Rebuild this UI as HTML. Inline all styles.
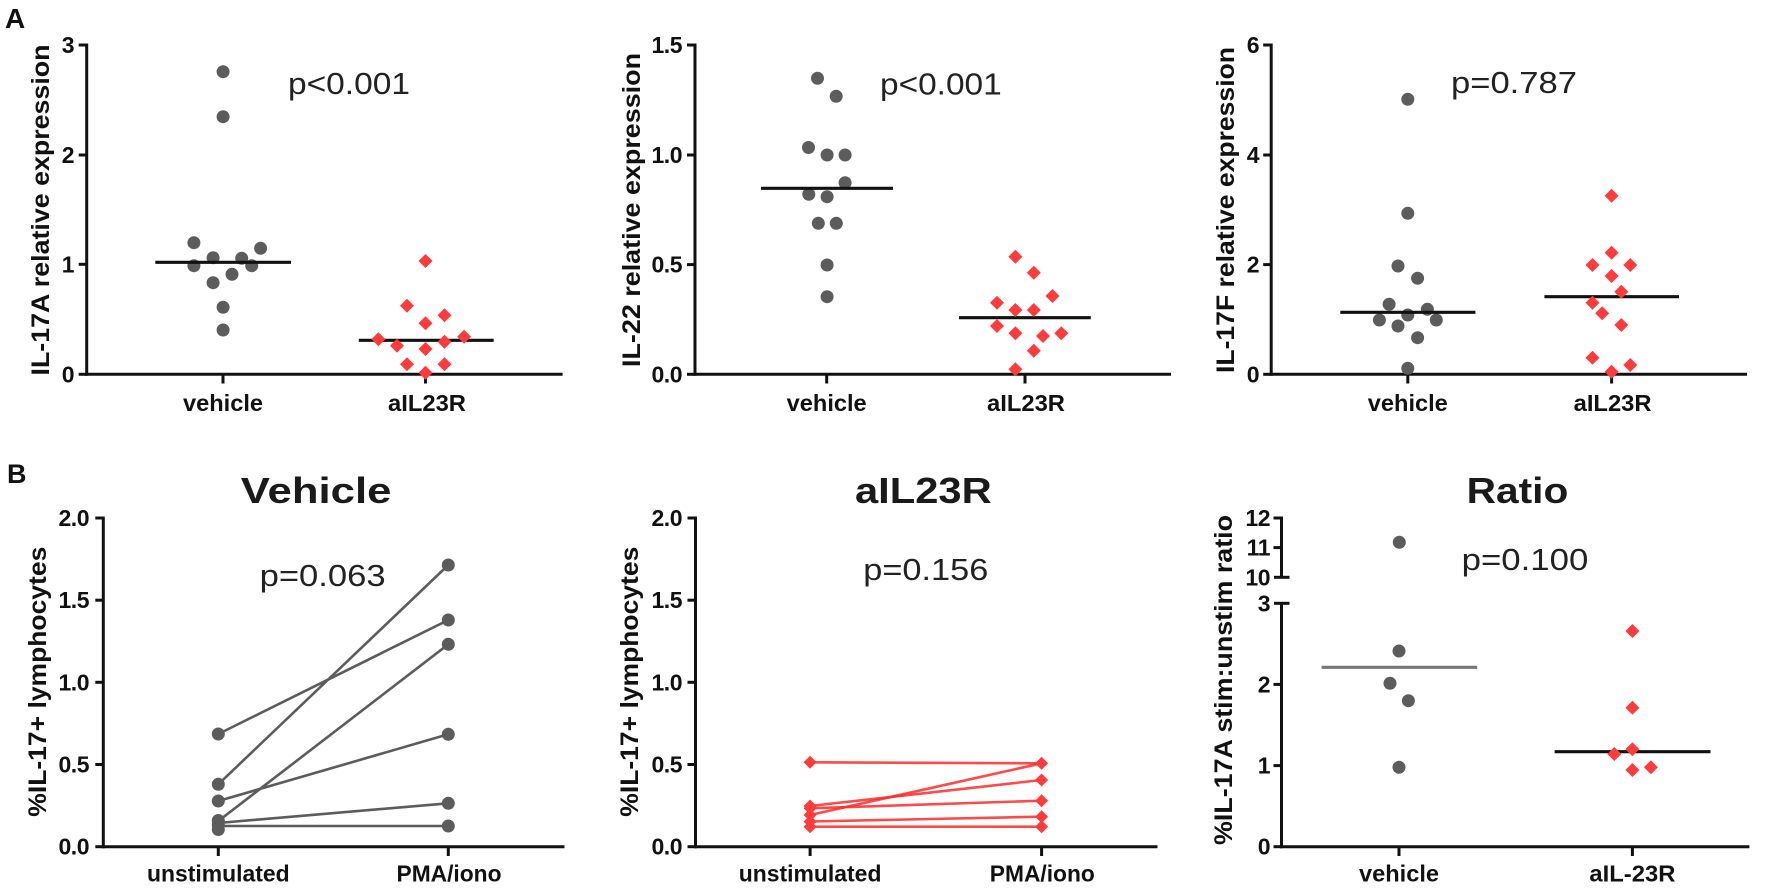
<!DOCTYPE html>
<html>
<head>
<meta charset="utf-8">
<style>
  html, body { margin:0; padding:0; background:#fff; }
  svg { display:block; }
  text { font-family: "Liberation Sans", Arial, sans-serif; fill:#111; }
  .tk { font-size:23px; font-weight:bold; text-anchor:end; letter-spacing:-0.5px; }
  .xl { font-size:23.5px; font-weight:bold; text-anchor:middle; }
  .yl { font-size:25px; font-weight:bold; text-anchor:middle; }
  .pv { font-size:31px; fill:#222; }
  .ti { font-size:36px; font-weight:bold; fill:#1a1a1a; }
  .pl { font-size:27px; font-weight:bold; }
  .ax { stroke:#111; stroke-width:3; fill:none; }
  .md { stroke:#111; stroke-width:3.2; }
  .gc { fill:#5c5c5c; }
  .rd { fill:#ff3b3b; }
  .gl { stroke:#5c5c5c; stroke-width:2.6; fill:none; }
  .rl { stroke:#ff2a2a; stroke-width:2.6; fill:none; stroke-opacity:0.85; }
</style>
</head>
<body>
<svg width="1772" height="893" viewBox="0 0 1772 893" xmlns="http://www.w3.org/2000/svg">
<defs>
  <path id="dm" d="M0,-7 L7,0 L0,7 L-7,0Z"/>
  <path id="ds" d="M0,-6.5 L6.5,0 L0,6.5 L-6.5,0Z"/>
</defs>

<text class="pl" x="5" y="28" style="font-size:28px">A</text>
<text class="pl" x="7" y="483">B</text>

<!-- ================= A1 ================= -->
<g>
  <line class="ax" x1="86.7" y1="43.5" x2="86.7" y2="375.8"/>
  <line class="ax" x1="85.2" y1="374.3" x2="562.6" y2="374.3"/>
  <line class="ax" x1="78.7" y1="45" x2="86.7" y2="45"/>
  <line class="ax" x1="78.7" y1="155" x2="86.7" y2="155"/>
  <line class="ax" x1="78.7" y1="264.3" x2="86.7" y2="264.3"/>
  <line class="ax" x1="78.7" y1="374.3" x2="86.7" y2="374.3"/>
  <text class="tk" x="74" y="53">3</text>
  <text class="tk" x="74" y="163">2</text>
  <text class="tk" x="74" y="272.3">1</text>
  <text class="tk" x="74" y="382.3">0</text>
  <line class="ax" x1="223" y1="374.3" x2="223" y2="383.5"/>
  <line class="ax" x1="425.5" y1="374.3" x2="425.5" y2="383.5"/>
  <text class="xl" x="223" y="411" textLength="80" lengthAdjust="spacingAndGlyphs">vehicle</text>
  <text class="xl" x="427" y="411" textLength="78" lengthAdjust="spacingAndGlyphs">aIL23R</text>
  <text class="yl" transform="translate(49,210) rotate(-90)" textLength="331" lengthAdjust="spacingAndGlyphs">IL-17A relative expression</text>
  <text class="pv" x="288" y="94" textLength="122" lengthAdjust="spacingAndGlyphs">p&lt;0.001</text>
  <circle class="gc" cx="223.1" cy="71.7" r="6.5"/>
  <circle class="gc" cx="223.1" cy="116.7" r="6.5"/>
  <circle class="gc" cx="193.9" cy="242.7" r="6.5"/>
  <circle class="gc" cx="260.6" cy="248.3" r="6.5"/>
  <circle class="gc" cx="213.1" cy="257.7" r="6.5"/>
  <circle class="gc" cx="241.7" cy="258.3" r="6.5"/>
  <circle class="gc" cx="193.9" cy="265.7" r="6.5"/>
  <circle class="gc" cx="251.7" cy="265.7" r="6.5"/>
  <circle class="gc" cx="232" cy="274.3" r="6.5"/>
  <circle class="gc" cx="213.1" cy="282.7" r="6.5"/>
  <circle class="gc" cx="223.1" cy="307.3" r="6.5"/>
  <circle class="gc" cx="223.1" cy="330" r="6.5"/>
  <line class="md" x1="155.3" y1="262.3" x2="291" y2="262.3"/>
  <line class="md" x1="358.8" y1="340.3" x2="493.7" y2="340.3"/>
  <use href="#dm" class="rd" x="425.5" y="261"/>
  <use href="#dm" class="rd" x="407" y="305.7"/>
  <use href="#dm" class="rd" x="444.5" y="315.3"/>
  <use href="#dm" class="rd" x="425.5" y="323.3"/>
  <use href="#dm" class="rd" x="378.4" y="339.3"/>
  <use href="#dm" class="rd" x="464.1" y="336.7"/>
  <use href="#dm" class="rd" x="444.5" y="341.7"/>
  <use href="#dm" class="rd" x="397" y="345.7"/>
  <use href="#dm" class="rd" x="425.5" y="349"/>
  <use href="#dm" class="rd" x="407" y="364.3"/>
  <use href="#dm" class="rd" x="444.5" y="364.3"/>
  <use href="#dm" class="rd" x="425.5" y="372.7"/>
</g>

<!-- ================= A2 ================= -->
<g>
  <line class="ax" x1="695" y1="43.5" x2="695" y2="375.8"/>
  <line class="ax" x1="693.5" y1="374.3" x2="1171" y2="374.3"/>
  <line class="ax" x1="687" y1="45" x2="695" y2="45"/>
  <line class="ax" x1="687" y1="155" x2="695" y2="155"/>
  <line class="ax" x1="687" y1="264.6" x2="695" y2="264.6"/>
  <line class="ax" x1="687" y1="374.3" x2="695" y2="374.3"/>
  <text class="tk" x="682" y="53">1.5</text>
  <text class="tk" x="682" y="163">1.0</text>
  <text class="tk" x="682" y="272.6">0.5</text>
  <text class="tk" x="682" y="382.3">0.0</text>
  <line class="ax" x1="826.7" y1="374.3" x2="826.7" y2="383.5"/>
  <line class="ax" x1="1025" y1="374.3" x2="1025" y2="383.5"/>
  <text class="xl" x="826.7" y="411" textLength="80" lengthAdjust="spacingAndGlyphs">vehicle</text>
  <text class="xl" x="1026" y="411" textLength="78" lengthAdjust="spacingAndGlyphs">aIL23R</text>
  <text class="yl" transform="translate(640,210) rotate(-90)" textLength="314" lengthAdjust="spacingAndGlyphs">IL-22 relative expression</text>
  <text class="pv" x="880" y="94.3" textLength="121.7" lengthAdjust="spacingAndGlyphs">p&lt;0.001</text>
  <circle class="gc" cx="817.5" cy="78.3" r="6.5"/>
  <circle class="gc" cx="836.2" cy="96.3" r="6.5"/>
  <circle class="gc" cx="808.5" cy="147.5" r="6.5"/>
  <circle class="gc" cx="827.1" cy="155" r="6.5"/>
  <circle class="gc" cx="845.1" cy="155" r="6.5"/>
  <circle class="gc" cx="845.1" cy="182.7" r="6.5"/>
  <circle class="gc" cx="808.8" cy="194.3" r="6.5"/>
  <circle class="gc" cx="827.1" cy="196.7" r="6.5"/>
  <circle class="gc" cx="818.3" cy="223.3" r="6.5"/>
  <circle class="gc" cx="836.3" cy="223.3" r="6.5"/>
  <circle class="gc" cx="827.1" cy="265" r="6.5"/>
  <circle class="gc" cx="827.1" cy="296.7" r="6.5"/>
  <line class="md" x1="761" y1="188.3" x2="893" y2="188.3"/>
  <line class="md" x1="959" y1="317.7" x2="1090.8" y2="317.7"/>
  <use href="#dm" class="rd" x="1015.4" y="256.7"/>
  <use href="#dm" class="rd" x="1033.8" y="272.7"/>
  <use href="#dm" class="rd" x="997" y="302.7"/>
  <use href="#dm" class="rd" x="1052.5" y="296"/>
  <use href="#dm" class="rd" x="1015.4" y="310"/>
  <use href="#dm" class="rd" x="1033.8" y="310"/>
  <use href="#dm" class="rd" x="997" y="326"/>
  <use href="#dm" class="rd" x="1015.4" y="333.3"/>
  <use href="#dm" class="rd" x="1043" y="336"/>
  <use href="#dm" class="rd" x="1061.3" y="333.3"/>
  <use href="#dm" class="rd" x="1033.8" y="350.7"/>
  <use href="#dm" class="rd" x="1015.4" y="369.3"/>
</g>

<!-- ================= A3 ================= -->
<g>
  <line class="ax" x1="1271.2" y1="43.5" x2="1271.2" y2="375.8"/>
  <line class="ax" x1="1269.7" y1="374.3" x2="1747" y2="374.3"/>
  <line class="ax" x1="1263.2" y1="45" x2="1271.2" y2="45"/>
  <line class="ax" x1="1263.2" y1="155" x2="1271.2" y2="155"/>
  <line class="ax" x1="1263.2" y1="264.6" x2="1271.2" y2="264.6"/>
  <line class="ax" x1="1263.2" y1="374.3" x2="1271.2" y2="374.3"/>
  <text class="tk" x="1259" y="53">6</text>
  <text class="tk" x="1259" y="163">4</text>
  <text class="tk" x="1259" y="272.6">2</text>
  <text class="tk" x="1259" y="382.3">0</text>
  <line class="ax" x1="1407.8" y1="374.3" x2="1407.8" y2="383.5"/>
  <line class="ax" x1="1611.6" y1="374.3" x2="1611.6" y2="383.5"/>
  <text class="xl" x="1407.8" y="411" textLength="80" lengthAdjust="spacingAndGlyphs">vehicle</text>
  <text class="xl" x="1612.6" y="411" textLength="78" lengthAdjust="spacingAndGlyphs">aIL23R</text>
  <text class="yl" transform="translate(1234,210) rotate(-90)" textLength="326" lengthAdjust="spacingAndGlyphs">IL-17F relative expression</text>
  <text class="pv" x="1451" y="93" textLength="126" lengthAdjust="spacingAndGlyphs">p=0.787</text>
  <circle class="gc" cx="1407.8" cy="99.3" r="6.5"/>
  <circle class="gc" cx="1407.8" cy="213.3" r="6.5"/>
  <circle class="gc" cx="1398" cy="266" r="6.5"/>
  <circle class="gc" cx="1417.6" cy="278.3" r="6.5"/>
  <circle class="gc" cx="1389.1" cy="304.3" r="6.5"/>
  <circle class="gc" cx="1427.4" cy="309.3" r="6.5"/>
  <circle class="gc" cx="1407.8" cy="315" r="6.5"/>
  <circle class="gc" cx="1379.4" cy="320" r="6.5"/>
  <circle class="gc" cx="1436.3" cy="320" r="6.5"/>
  <circle class="gc" cx="1398" cy="326" r="6.5"/>
  <circle class="gc" cx="1417.6" cy="337.7" r="6.5"/>
  <circle class="gc" cx="1407.8" cy="368.3" r="6.5"/>
  <line class="md" x1="1340.3" y1="312.3" x2="1475.4" y2="312.3"/>
  <line class="md" x1="1544.4" y1="296.7" x2="1679" y2="296.7"/>
  <use href="#dm" class="rd" x="1611.6" y="195.7"/>
  <use href="#dm" class="rd" x="1611.6" y="252.7"/>
  <use href="#dm" class="rd" x="1592.5" y="265"/>
  <use href="#dm" class="rd" x="1630.3" y="265"/>
  <use href="#dm" class="rd" x="1611.6" y="276"/>
  <use href="#dm" class="rd" x="1621.3" y="291.7"/>
  <use href="#dm" class="rd" x="1592.5" y="302.7"/>
  <use href="#dm" class="rd" x="1602.2" y="313.3"/>
  <use href="#dm" class="rd" x="1621.3" y="325"/>
  <use href="#dm" class="rd" x="1592.5" y="357.7"/>
  <use href="#dm" class="rd" x="1630.3" y="365"/>
  <use href="#dm" class="rd" x="1611.6" y="371.7"/>
</g>

<!-- ================= B1 ================= -->
<g>
  <text class="ti" x="240.8" y="503" textLength="150.6" lengthAdjust="spacingAndGlyphs">Vehicle</text>
  <line class="ax" x1="103.3" y1="516.5" x2="103.3" y2="848.2"/>
  <line class="ax" x1="101.8" y1="846.7" x2="564.5" y2="846.7"/>
  <line class="ax" x1="95.3" y1="518" x2="103.3" y2="518"/>
  <line class="ax" x1="95.3" y1="600.2" x2="103.3" y2="600.2"/>
  <line class="ax" x1="95.3" y1="682.3" x2="103.3" y2="682.3"/>
  <line class="ax" x1="95.3" y1="764.5" x2="103.3" y2="764.5"/>
  <line class="ax" x1="95.3" y1="846.7" x2="103.3" y2="846.7"/>
  <text class="tk" x="89" y="526">2.0</text>
  <text class="tk" x="89" y="608.2">1.5</text>
  <text class="tk" x="89" y="690.3">1.0</text>
  <text class="tk" x="89" y="772.5">0.5</text>
  <text class="tk" x="89" y="854.7">0.0</text>
  <line class="ax" x1="218.3" y1="846.7" x2="218.3" y2="856"/>
  <line class="ax" x1="448.3" y1="846.7" x2="448.3" y2="856"/>
  <text class="xl" x="218.3" y="881.7" textLength="142.7" lengthAdjust="spacingAndGlyphs">unstimulated</text>
  <text class="xl" x="449" y="881.7" textLength="105" lengthAdjust="spacingAndGlyphs">PMA/iono</text>
  <text class="yl" transform="translate(46,681.7) rotate(-90)" textLength="270" lengthAdjust="spacingAndGlyphs">%IL-17+ lymphocytes</text>
  <text class="pv" x="259.6" y="586" textLength="126" lengthAdjust="spacingAndGlyphs">p=0.063</text>
  <line class="gl" x1="218.3" y1="734" x2="448.3" y2="620"/>
  <line class="gl" x1="218.3" y1="784.3" x2="448.3" y2="565"/>
  <line class="gl" x1="218.3" y1="801" x2="448.3" y2="734.3"/>
  <line class="gl" x1="218.3" y1="821" x2="448.3" y2="644.3"/>
  <line class="gl" x1="218.3" y1="823" x2="448.3" y2="803.3"/>
  <line class="gl" x1="218.3" y1="826" x2="448.3" y2="826"/>
  <circle class="gc" cx="218.3" cy="734" r="6.5"/>
  <circle class="gc" cx="218.3" cy="784.3" r="6.5"/>
  <circle class="gc" cx="218.3" cy="801" r="6.5"/>
  <circle class="gc" cx="218.3" cy="820.5" r="6.5"/>
  <circle class="gc" cx="218.3" cy="825" r="6.5"/>
  <circle class="gc" cx="218.3" cy="829.5" r="6.5"/>
  <circle class="gc" cx="448.3" cy="565" r="6.5"/>
  <circle class="gc" cx="448.3" cy="620" r="6.5"/>
  <circle class="gc" cx="448.3" cy="644.3" r="6.5"/>
  <circle class="gc" cx="448.3" cy="734.3" r="6.5"/>
  <circle class="gc" cx="448.3" cy="803.3" r="6.5"/>
  <circle class="gc" cx="448.3" cy="826" r="6.5"/>
</g>

<!-- ================= B2 ================= -->
<g>
  <text class="ti" x="855" y="503" textLength="136.7" lengthAdjust="spacingAndGlyphs">aIL23R</text>
  <line class="ax" x1="695.5" y1="516.5" x2="695.5" y2="848.2"/>
  <line class="ax" x1="694" y1="846.7" x2="1157.5" y2="846.7"/>
  <line class="ax" x1="687.5" y1="518" x2="695.5" y2="518"/>
  <line class="ax" x1="687.5" y1="600.2" x2="695.5" y2="600.2"/>
  <line class="ax" x1="687.5" y1="682.3" x2="695.5" y2="682.3"/>
  <line class="ax" x1="687.5" y1="764.5" x2="695.5" y2="764.5"/>
  <line class="ax" x1="687.5" y1="846.7" x2="695.5" y2="846.7"/>
  <text class="tk" x="682" y="526">2.0</text>
  <text class="tk" x="682" y="608.2">1.5</text>
  <text class="tk" x="682" y="690.3">1.0</text>
  <text class="tk" x="682" y="772.5">0.5</text>
  <text class="tk" x="682" y="854.7">0.0</text>
  <line class="ax" x1="810.1" y1="846.7" x2="810.1" y2="856"/>
  <line class="ax" x1="1041.6" y1="846.7" x2="1041.6" y2="856"/>
  <text class="xl" x="810.1" y="881.7" textLength="142.7" lengthAdjust="spacingAndGlyphs">unstimulated</text>
  <text class="xl" x="1042.3" y="881.7" textLength="105" lengthAdjust="spacingAndGlyphs">PMA/iono</text>
  <text class="yl" transform="translate(638,681.7) rotate(-90)" textLength="270" lengthAdjust="spacingAndGlyphs">%IL-17+ lymphocytes</text>
  <text class="pv" x="863.3" y="580" textLength="125" lengthAdjust="spacingAndGlyphs">p=0.156</text>
  <line class="rl" x1="810.1" y1="762.3" x2="1041.6" y2="763.3"/>
  <line class="rl" x1="810.1" y1="815" x2="1041.6" y2="763.3"/>
  <line class="rl" x1="810.1" y1="806" x2="1041.6" y2="780"/>
  <line class="rl" x1="810.1" y1="808.3" x2="1041.6" y2="800.7"/>
  <line class="rl" x1="810.1" y1="821.5" x2="1041.6" y2="816.7"/>
  <line class="rl" x1="810.1" y1="826.7" x2="1041.6" y2="826.7"/>
  <use href="#ds" class="rd" x="810.1" y="762.3"/>
  <use href="#ds" class="rd" x="810.1" y="806"/>
  <use href="#ds" class="rd" x="810.1" y="808.3"/>
  <use href="#ds" class="rd" x="810.1" y="815"/>
  <use href="#ds" class="rd" x="810.1" y="821.5"/>
  <use href="#ds" class="rd" x="810.1" y="826.7"/>
  <use href="#ds" class="rd" x="1041.6" y="763.3"/>
  <use href="#ds" class="rd" x="1041.6" y="780"/>
  <use href="#ds" class="rd" x="1041.6" y="800.7"/>
  <use href="#ds" class="rd" x="1041.6" y="816.7"/>
  <use href="#ds" class="rd" x="1041.6" y="826.7"/>
</g>

<!-- ================= B3 ================= -->
<g>
  <text class="ti" x="1466.7" y="503" textLength="101.6" lengthAdjust="spacingAndGlyphs">Ratio</text>
  <line class="ax" x1="1281.5" y1="516.5" x2="1281.5" y2="577.3"/>
  <line class="ax" x1="1281.5" y1="603.3" x2="1281.5" y2="848.2"/>
  <line class="ax" x1="1280" y1="846.7" x2="1749.4" y2="846.7"/>
  <line class="ax" x1="1273.5" y1="518" x2="1281.5" y2="518"/>
  <line class="ax" x1="1273.5" y1="547.6" x2="1281.5" y2="547.6"/>
  <line class="ax" x1="1274" y1="577.3" x2="1289.5" y2="577.3"/>
  <line class="ax" x1="1274" y1="603.3" x2="1289.5" y2="603.3"/>
  <line class="ax" x1="1273.5" y1="684.4" x2="1281.5" y2="684.4"/>
  <line class="ax" x1="1273.5" y1="765.6" x2="1281.5" y2="765.6"/>
  <line class="ax" x1="1273.5" y1="846.7" x2="1281.5" y2="846.7"/>
  <text class="tk" x="1270" y="526">12</text>
  <text class="tk" x="1270" y="555.6">11</text>
  <text class="tk" x="1270" y="585.3">10</text>
  <text class="tk" x="1270" y="611.3">3</text>
  <text class="tk" x="1270" y="692.4">2</text>
  <text class="tk" x="1270" y="773.6">1</text>
  <text class="tk" x="1270" y="854.7">0</text>
  <line class="ax" x1="1399" y1="846.7" x2="1399" y2="856"/>
  <line class="ax" x1="1632.4" y1="846.7" x2="1632.4" y2="856"/>
  <text class="xl" x="1399" y="881.7" textLength="80" lengthAdjust="spacingAndGlyphs">vehicle</text>
  <text class="xl" x="1632.4" y="881.7" textLength="86" lengthAdjust="spacingAndGlyphs">aIL-23R</text>
  <text class="yl" transform="translate(1232,680) rotate(-90)" textLength="330" lengthAdjust="spacingAndGlyphs">%IL-17A stim:unstim ratio</text>
  <text class="pv" x="1461.7" y="570" textLength="126.6" lengthAdjust="spacingAndGlyphs">p=0.100</text>
  <circle class="gc" cx="1399.3" cy="542.3" r="6.5"/>
  <circle class="gc" cx="1399" cy="651" r="6.5"/>
  <circle class="gc" cx="1390" cy="683.3" r="6.5"/>
  <circle class="gc" cx="1408.4" cy="700.7" r="6.5"/>
  <circle class="gc" cx="1399" cy="767.3" r="6.5"/>
  <line x1="1321.6" y1="667.3" x2="1477.2" y2="667.3" stroke="#777" stroke-width="3.2"/>
  <line class="md" x1="1554.6" y1="751.7" x2="1710.5" y2="751.7"/>
  <use href="#dm" class="rd" x="1632.4" y="631"/>
  <use href="#dm" class="rd" x="1632.4" y="707.7"/>
  <use href="#dm" class="rd" x="1632.4" y="749.3"/>
  <use href="#dm" class="rd" x="1614.3" y="754"/>
  <use href="#dm" class="rd" x="1632.4" y="770"/>
  <use href="#dm" class="rd" x="1650.9" y="767.3"/>
</g>
</svg>
</body>
</html>
